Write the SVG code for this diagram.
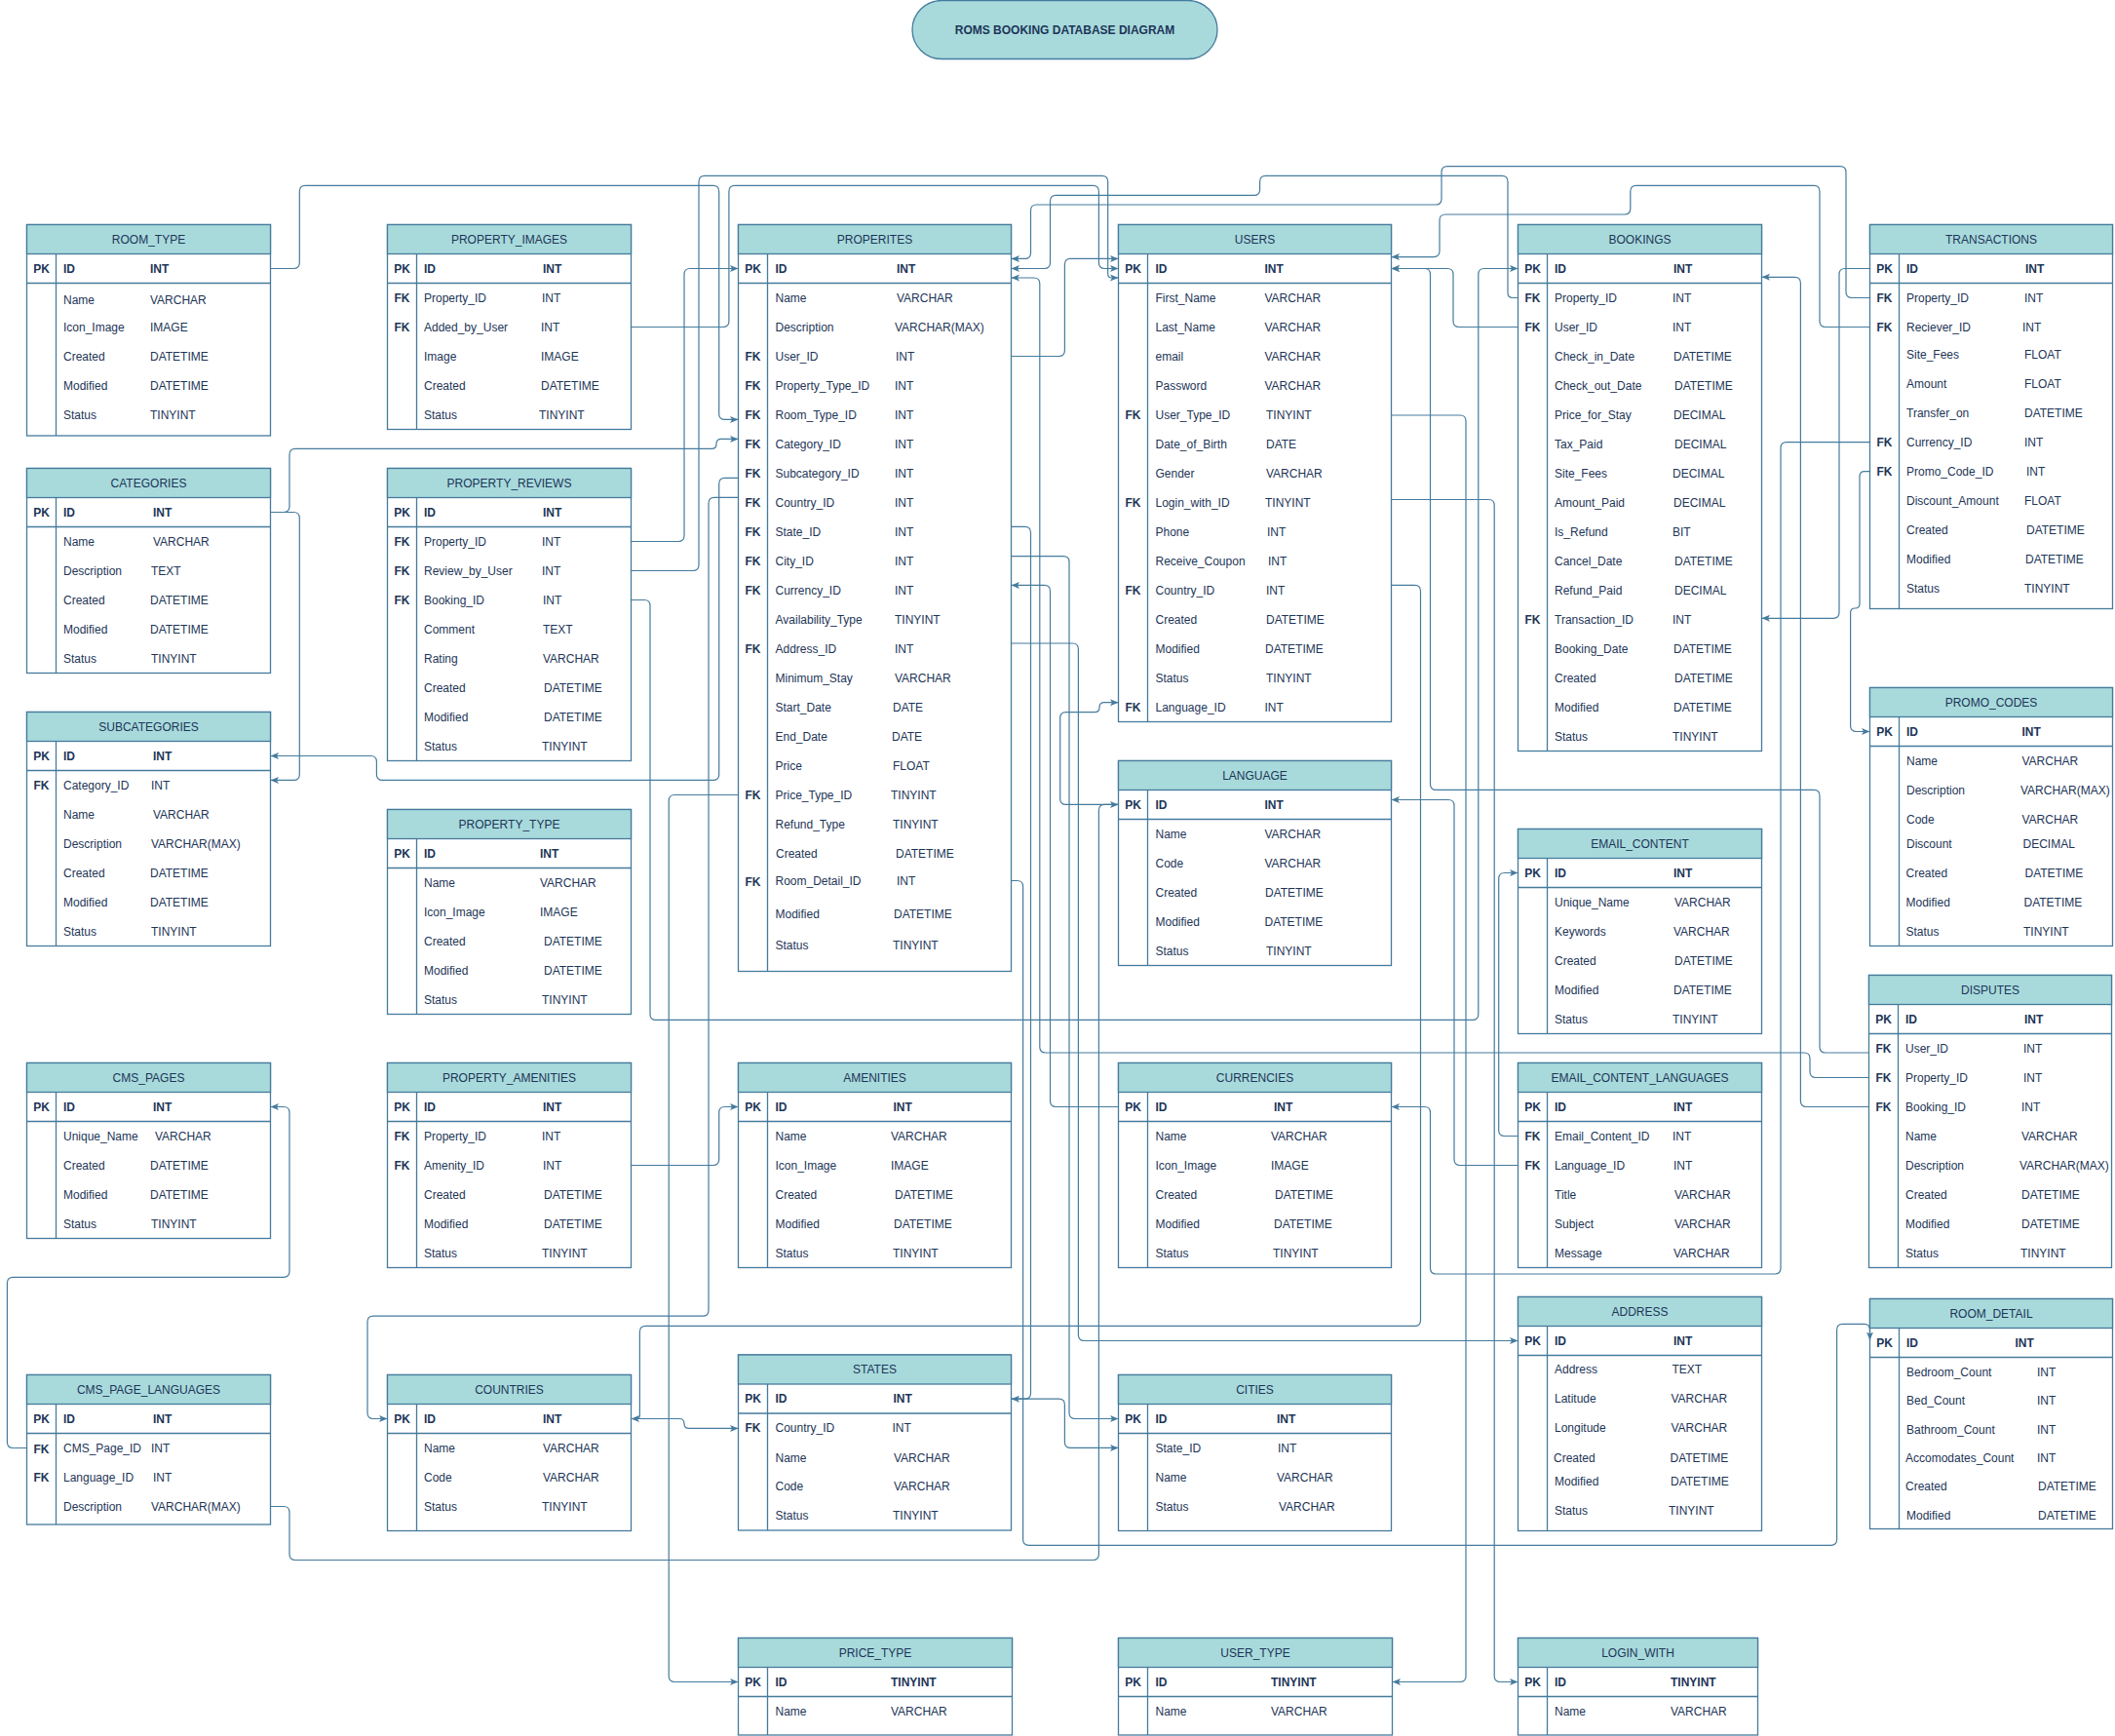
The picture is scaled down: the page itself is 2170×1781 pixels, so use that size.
<svg xmlns="http://www.w3.org/2000/svg" width="2170" height="1781" viewBox="0 0 2170 1781">
<style>
.b{fill:#fff;stroke:#457B9D;stroke-width:1.3}
.h{fill:#A8DADC;stroke:#457B9D;stroke-width:1.3}
.l{stroke:#457B9D;stroke-width:1.3}
text{font-family:"Liberation Sans",Arial,Helvetica,sans-serif;font-size:12px;fill:#1D3557;dominant-baseline:central}
.t{text-anchor:middle}
.tt{text-anchor:middle;font-weight:bold}
.k{text-anchor:middle;font-weight:bold}
.p{font-weight:bold}
.c{fill:none;stroke:#457B9D;stroke-width:1.2}
</style>
<defs>
<marker id="ar" markerUnits="userSpaceOnUse" markerWidth="9" markerHeight="8" refX="8.5" refY="4" orient="auto">
<path d="M0,0.5 L8.5,4 L0,7.5 L2,4 Z" fill="#457B9D"/>
</marker>
</defs>
<rect width="2170" height="1781" fill="#fff"/>

<g id="title">
<rect x="936" y="0.5" width="313" height="60" rx="30" ry="30" class="h"/>
<text x="1092.5" y="31" class="tt">ROMS BOOKING DATABASE DIAGRAM</text>
</g>

<g id="room_type">
<rect class="b" x="27.5" y="230.5" width="250" height="216.5"/><rect class="h" x="27.5" y="230.5" width="250" height="30"/>
<text class="t" x="152.5" y="245.5">ROOM_TYPE</text>
<line class="l" x1="27.5" y1="290.5" x2="277.5" y2="290.5"/><line class="l" x1="57.5" y1="260.5" x2="57.5" y2="447"/>
<text class="k" x="42.5" y="275.5">PK</text><text class="p" x="65" y="275.5">ID</text><text class="p" x="154" y="275.5">INT</text>
<text x="65" y="308">Name</text><text x="154" y="308">VARCHAR</text>
<text x="65" y="335.5">Icon_Image</text><text x="154" y="335.5">IMAGE</text>
<text x="65" y="365.5">Created</text><text x="154" y="365.5">DATETIME</text>
<text x="65" y="395.5">Modified</text><text x="154" y="395.5">DATETIME</text>
<text x="65" y="425.5">Status</text><text x="154" y="425.5">TINYINT</text>
</g>

<g id="property_images">
<rect class="b" x="397.5" y="230.5" width="250" height="210"/><rect class="h" x="397.5" y="230.5" width="250" height="30"/>
<text class="t" x="522.5" y="245.5">PROPERTY_IMAGES</text>
<line class="l" x1="397.5" y1="290.5" x2="647.5" y2="290.5"/><line class="l" x1="427.5" y1="260.5" x2="427.5" y2="440.5"/>
<text class="k" x="412.5" y="275.5">PK</text><text class="p" x="435" y="275.5">ID</text><text class="p" x="557" y="275.5">INT</text>
<text class="k" x="412.5" y="305.5">FK</text><text x="435" y="305.5">Property_ID</text><text x="556" y="305.5">INT</text>
<text class="k" x="412.5" y="335.5">FK</text><text x="435" y="335.5">Added_by_User</text><text x="555" y="335.5">INT</text>
<text x="435" y="365.5">Image</text><text x="555" y="365.5">IMAGE</text>
<text x="435" y="395.5">Created</text><text x="555" y="395.5">DATETIME</text>
<text x="435" y="425.5">Status</text><text x="553" y="425.5">TINYINT</text>
</g>

<g id="categories">
<rect class="b" x="27.5" y="480.5" width="250" height="210"/><rect class="h" x="27.5" y="480.5" width="250" height="30"/>
<text class="t" x="152.5" y="495.5">CATEGORIES</text>
<line class="l" x1="27.5" y1="540.5" x2="277.5" y2="540.5"/><line class="l" x1="57.5" y1="510.5" x2="57.5" y2="690.5"/>
<text class="k" x="42.5" y="525.5">PK</text><text class="p" x="65" y="525.5">ID</text><text class="p" x="157" y="525.5">INT</text>
<text x="65" y="555.5">Name</text><text x="157" y="555.5">VARCHAR</text>
<text x="65" y="585.5">Description</text><text x="155" y="585.5">TEXT</text>
<text x="65" y="615.5">Created</text><text x="154" y="615.5">DATETIME</text>
<text x="65" y="645.5">Modified</text><text x="154" y="645.5">DATETIME</text>
<text x="65" y="675.5">Status</text><text x="155" y="675.5">TINYINT</text>
</g>

<g id="property_reviews">
<rect class="b" x="397.5" y="480.5" width="250" height="300"/><rect class="h" x="397.5" y="480.5" width="250" height="30"/>
<text class="t" x="522.5" y="495.5">PROPERTY_REVIEWS</text>
<line class="l" x1="397.5" y1="540.5" x2="647.5" y2="540.5"/><line class="l" x1="427.5" y1="510.5" x2="427.5" y2="780.5"/>
<text class="k" x="412.5" y="525.5">PK</text><text class="p" x="435" y="525.5">ID</text><text class="p" x="557" y="525.5">INT</text>
<text class="k" x="412.5" y="555.5">FK</text><text x="435" y="555.5">Property_ID</text><text x="556" y="555.5">INT</text>
<text class="k" x="412.5" y="585.5">FK</text><text x="435" y="585.5">Review_by_User</text><text x="556" y="585.5">INT</text>
<text class="k" x="412.5" y="615.5">FK</text><text x="435" y="615.5">Booking_ID</text><text x="557" y="615.5">INT</text>
<text x="435" y="645.5">Comment</text><text x="557" y="645.5">TEXT</text>
<text x="435" y="675.5">Rating</text><text x="557" y="675.5">VARCHAR</text>
<text x="435" y="705.5">Created</text><text x="558" y="705.5">DATETIME</text>
<text x="435" y="735.5">Modified</text><text x="558" y="735.5">DATETIME</text>
<text x="435" y="765.5">Status</text><text x="556" y="765.5">TINYINT</text>
</g>

<g id="subcategories">
<rect class="b" x="27.5" y="730.5" width="250" height="240"/><rect class="h" x="27.5" y="730.5" width="250" height="30"/>
<text class="t" x="152.5" y="745.5">SUBCATEGORIES</text>
<line class="l" x1="27.5" y1="790.5" x2="277.5" y2="790.5"/><line class="l" x1="57.5" y1="760.5" x2="57.5" y2="970.5"/>
<text class="k" x="42.5" y="775.5">PK</text><text class="p" x="65" y="775.5">ID</text><text class="p" x="157" y="775.5">INT</text>
<text class="k" x="42.5" y="805.5">FK</text><text x="65" y="805.5">Category_ID</text><text x="155" y="805.5">INT</text>
<text x="65" y="835.5">Name</text><text x="157" y="835.5">VARCHAR</text>
<text x="65" y="865.5">Description</text><text x="155" y="865.5">VARCHAR(MAX)</text>
<text x="65" y="895.5">Created</text><text x="154" y="895.5">DATETIME</text>
<text x="65" y="925.5">Modified</text><text x="154" y="925.5">DATETIME</text>
<text x="65" y="955.5">Status</text><text x="155" y="955.5">TINYINT</text>
</g>

<g id="property_type">
<rect class="b" x="397.5" y="830.5" width="250" height="210"/><rect class="h" x="397.5" y="830.5" width="250" height="30"/>
<text class="t" x="522.5" y="845.5">PROPERTY_TYPE</text>
<line class="l" x1="397.5" y1="890.5" x2="647.5" y2="890.5"/><line class="l" x1="427.5" y1="860.5" x2="427.5" y2="1040.5"/>
<text class="k" x="412.5" y="875.5">PK</text><text class="p" x="435" y="875.5">ID</text><text class="p" x="554" y="875.5">INT</text>
<text x="435" y="905.5">Name</text><text x="554" y="905.5">VARCHAR</text>
<text x="435" y="935.5">Icon_Image</text><text x="554" y="935.5">IMAGE</text>
<text x="435" y="965.5">Created</text><text x="558" y="965.5">DATETIME</text>
<text x="435" y="995.5">Modified</text><text x="558" y="995.5">DATETIME</text>
<text x="435" y="1025.5">Status</text><text x="556" y="1025.5">TINYINT</text>
</g>

<g id="cms_pages">
<rect class="b" x="27.5" y="1090.5" width="250" height="180"/><rect class="h" x="27.5" y="1090.5" width="250" height="30"/>
<text class="t" x="152.5" y="1105.5">CMS_PAGES</text>
<line class="l" x1="27.5" y1="1150.5" x2="277.5" y2="1150.5"/><line class="l" x1="57.5" y1="1120.5" x2="57.5" y2="1270.5"/>
<text class="k" x="42.5" y="1135.5">PK</text><text class="p" x="65" y="1135.5">ID</text><text class="p" x="157" y="1135.5">INT</text>
<text x="65" y="1165.5">Unique_Name</text><text x="159" y="1165.5">VARCHAR</text>
<text x="65" y="1195.5">Created</text><text x="154" y="1195.5">DATETIME</text>
<text x="65" y="1225.5">Modified</text><text x="154" y="1225.5">DATETIME</text>
<text x="65" y="1255.5">Status</text><text x="155" y="1255.5">TINYINT</text>
</g>

<g id="property_amenities">
<rect class="b" x="397.5" y="1090.5" width="250" height="210"/><rect class="h" x="397.5" y="1090.5" width="250" height="30"/>
<text class="t" x="522.5" y="1105.5">PROPERTY_AMENITIES</text>
<line class="l" x1="397.5" y1="1150.5" x2="647.5" y2="1150.5"/><line class="l" x1="427.5" y1="1120.5" x2="427.5" y2="1300.5"/>
<text class="k" x="412.5" y="1135.5">PK</text><text class="p" x="435" y="1135.5">ID</text><text class="p" x="557" y="1135.5">INT</text>
<text class="k" x="412.5" y="1165.5">FK</text><text x="435" y="1165.5">Property_ID</text><text x="556" y="1165.5">INT</text>
<text class="k" x="412.5" y="1195.5">FK</text><text x="435" y="1195.5">Amenity_ID</text><text x="557" y="1195.5">INT</text>
<text x="435" y="1225.5">Created</text><text x="558" y="1225.5">DATETIME</text>
<text x="435" y="1255.5">Modified</text><text x="558" y="1255.5">DATETIME</text>
<text x="435" y="1285.5">Status</text><text x="556" y="1285.5">TINYINT</text>
</g>

<g id="cms_page_languages">
<rect class="b" x="27.5" y="1410.5" width="250" height="153.5"/><rect class="h" x="27.5" y="1410.5" width="250" height="30"/>
<text class="t" x="152.5" y="1425.5">CMS_PAGE_LANGUAGES</text>
<line class="l" x1="27.5" y1="1470.5" x2="277.5" y2="1470.5"/><line class="l" x1="57.5" y1="1440.5" x2="57.5" y2="1564"/>
<text class="k" x="42.5" y="1455.5">PK</text><text class="p" x="65" y="1455.5">ID</text><text class="p" x="157" y="1455.5">INT</text>
<text class="k" x="42.5" y="1487">FK</text><text x="65" y="1485.5">CMS_Page_ID</text><text x="155" y="1485.5">INT</text>
<text class="k" x="42.5" y="1515.5">FK</text><text x="65" y="1515.5">Language_ID</text><text x="157" y="1515.5">INT</text>
<text x="65" y="1545.5">Description</text><text x="155" y="1545.5">VARCHAR(MAX)</text>
</g>

<g id="countries">
<rect class="b" x="397.5" y="1410.5" width="250" height="160"/><rect class="h" x="397.5" y="1410.5" width="250" height="30"/>
<text class="t" x="522.5" y="1425.5">COUNTRIES</text>
<line class="l" x1="397.5" y1="1470.5" x2="647.5" y2="1470.5"/><line class="l" x1="427.5" y1="1440.5" x2="427.5" y2="1570.5"/>
<text class="k" x="412.5" y="1455.5">PK</text><text class="p" x="435" y="1455.5">ID</text><text class="p" x="557" y="1455.5">INT</text>
<text x="435" y="1485.5">Name</text><text x="557" y="1485.5">VARCHAR</text>
<text x="435" y="1515.5">Code</text><text x="557" y="1515.5">VARCHAR</text>
<text x="435" y="1545.5">Status</text><text x="556" y="1545.5">TINYINT</text>
</g>

<g id="properites">
<rect class="b" x="757.5" y="230.5" width="280" height="766"/><rect class="h" x="757.5" y="230.5" width="280" height="30"/>
<text class="t" x="897.5" y="245.5">PROPERITES</text>
<line class="l" x1="757.5" y1="290.5" x2="1037.5" y2="290.5"/><line class="l" x1="787.5" y1="260.5" x2="787.5" y2="996.5"/>
<text class="k" x="772.5" y="275.5">PK</text><text class="p" x="795.5" y="275.5">ID</text><text class="p" x="920" y="275.5">INT</text>
<text x="795.5" y="305.5">Name</text><text x="920" y="305.5">VARCHAR</text>
<text x="795.5" y="335.5">Description</text><text x="918" y="335.5">VARCHAR(MAX)</text>
<text class="k" x="772.5" y="365.5">FK</text><text x="795.5" y="365.5">User_ID</text><text x="919" y="365.5">INT</text>
<text class="k" x="772.5" y="395.5">FK</text><text x="795.5" y="395.5">Property_Type_ID</text><text x="918" y="395.5">INT</text>
<text class="k" x="772.5" y="425.5">FK</text><text x="795.5" y="425.5">Room_Type_ID</text><text x="918" y="425.5">INT</text>
<text class="k" x="772.5" y="455.5">FK</text><text x="795.5" y="455.5">Category_ID</text><text x="918" y="455.5">INT</text>
<text class="k" x="772.5" y="485.5">FK</text><text x="795.5" y="485.5">Subcategory_ID</text><text x="918" y="485.5">INT</text>
<text class="k" x="772.5" y="515.5">FK</text><text x="795.5" y="515.5">Country_ID</text><text x="918" y="515.5">INT</text>
<text class="k" x="772.5" y="545.5">FK</text><text x="795.5" y="545.5">State_ID</text><text x="918" y="545.5">INT</text>
<text class="k" x="772.5" y="575.5">FK</text><text x="795.5" y="575.5">City_ID</text><text x="918" y="575.5">INT</text>
<text class="k" x="772.5" y="605.5">FK</text><text x="795.5" y="605.5">Currency_ID</text><text x="918" y="605.5">INT</text>
<text x="795.5" y="635.5">Availability_Type</text><text x="918" y="635.5">TINYINT</text>
<text class="k" x="772.5" y="665.5">FK</text><text x="795.5" y="665.5">Address_ID</text><text x="918" y="665.5">INT</text>
<text x="795.5" y="695.5">Minimum_Stay</text><text x="918" y="695.5">VARCHAR</text>
<text x="795.5" y="725.5">Start_Date</text><text x="916" y="725.5">DATE</text>
<text x="795.5" y="755.5">End_Date</text><text x="915" y="755.5">DATE</text>
<text x="795.5" y="785.5">Price</text><text x="916" y="785.5">FLOAT</text>
<text class="k" x="772.5" y="815.5">FK</text><text x="795.5" y="815.5">Price_Type_ID</text><text x="914" y="815.5">TINYINT</text>
<text x="795.5" y="845.5">Refund_Type</text><text x="916" y="845.5">TINYINT</text>
<text x="796" y="875.5">Created</text><text x="919" y="875.5">DATETIME</text>
<text class="k" x="772.5" y="905">FK</text><text x="795.5" y="903.5">Room_Detail_ID</text><text x="920" y="903.5">INT</text>
<text x="795.5" y="938">Modified</text><text x="917" y="938">DATETIME</text>
<text x="795.5" y="970">Status</text><text x="916" y="970">TINYINT</text>
</g>

<g id="users">
<rect class="b" x="1147.5" y="230.5" width="280" height="510"/><rect class="h" x="1147.5" y="230.5" width="280" height="30"/>
<text class="t" x="1287.5" y="245.5">USERS</text>
<line class="l" x1="1147.5" y1="290.5" x2="1427.5" y2="290.5"/><line class="l" x1="1177.5" y1="260.5" x2="1177.5" y2="740.5"/>
<text class="k" x="1162.5" y="275.5">PK</text><text class="p" x="1185.5" y="275.5">ID</text><text class="p" x="1297.5" y="275.5">INT</text>
<text x="1185.5" y="305.5">First_Name</text><text x="1297.5" y="305.5">VARCHAR</text>
<text x="1185.5" y="335.5">Last_Name</text><text x="1297.5" y="335.5">VARCHAR</text>
<text x="1185.5" y="365.5">email</text><text x="1297.5" y="365.5">VARCHAR</text>
<text x="1185.5" y="395.5">Password</text><text x="1297.5" y="395.5">VARCHAR</text>
<text class="k" x="1162.5" y="425.5">FK</text><text x="1185.5" y="425.5">User_Type_ID</text><text x="1299" y="425.5">TINYINT</text>
<text x="1185.5" y="455.5">Date_of_Birth</text><text x="1299" y="455.5">DATE</text>
<text x="1185.5" y="485.5">Gender</text><text x="1299" y="485.5">VARCHAR</text>
<text class="k" x="1162.5" y="515.5">FK</text><text x="1185.5" y="515.5">Login_with_ID</text><text x="1298" y="515.5">TINYINT</text>
<text x="1185.5" y="545.5">Phone</text><text x="1300" y="545.5">INT</text>
<text x="1185.5" y="575.5">Receive_Coupon</text><text x="1301" y="575.5">INT</text>
<text class="k" x="1162.5" y="605.5">FK</text><text x="1185.5" y="605.5">Country_ID</text><text x="1299" y="605.5">INT</text>
<text x="1185.5" y="635.5">Created</text><text x="1299" y="635.5">DATETIME</text>
<text x="1185.5" y="665.5">Modified</text><text x="1298" y="665.5">DATETIME</text>
<text x="1185.5" y="695.5">Status</text><text x="1299" y="695.5">TINYINT</text>
<text class="k" x="1162.5" y="725.5">FK</text><text x="1185.5" y="725.5">Language_ID</text><text x="1297.5" y="725.5">INT</text>
</g>

<g id="language">
<rect class="b" x="1147.5" y="780.5" width="280" height="210"/><rect class="h" x="1147.5" y="780.5" width="280" height="30"/>
<text class="t" x="1287.5" y="795.5">LANGUAGE</text>
<line class="l" x1="1147.5" y1="840.5" x2="1427.5" y2="840.5"/><line class="l" x1="1177.5" y1="810.5" x2="1177.5" y2="990.5"/>
<text class="k" x="1162.5" y="825.5">PK</text><text class="p" x="1185.5" y="825.5">ID</text><text class="p" x="1297.5" y="825.5">INT</text>
<text x="1185.5" y="855.5">Name</text><text x="1297.5" y="855.5">VARCHAR</text>
<text x="1185.5" y="885.5">Code</text><text x="1297.5" y="885.5">VARCHAR</text>
<text x="1185.5" y="915.5">Created</text><text x="1298" y="915.5">DATETIME</text>
<text x="1185.5" y="945.5">Modified</text><text x="1297.5" y="945.5">DATETIME</text>
<text x="1185.5" y="975.5">Status</text><text x="1299" y="975.5">TINYINT</text>
</g>

<g id="amenities">
<rect class="b" x="757.5" y="1090.5" width="280" height="210"/><rect class="h" x="757.5" y="1090.5" width="280" height="30"/>
<text class="t" x="897.5" y="1105.5">AMENITIES</text>
<line class="l" x1="757.5" y1="1150.5" x2="1037.5" y2="1150.5"/><line class="l" x1="787.5" y1="1120.5" x2="787.5" y2="1300.5"/>
<text class="k" x="772.5" y="1135.5">PK</text><text class="p" x="795.5" y="1135.5">ID</text><text class="p" x="916.5" y="1135.5">INT</text>
<text x="795.5" y="1165.5">Name</text><text x="914" y="1165.5">VARCHAR</text>
<text x="795.5" y="1195.5">Icon_Image</text><text x="914" y="1195.5">IMAGE</text>
<text x="795.5" y="1225.5">Created</text><text x="918" y="1225.5">DATETIME</text>
<text x="795.5" y="1255.5">Modified</text><text x="917" y="1255.5">DATETIME</text>
<text x="795.5" y="1285.5">Status</text><text x="916" y="1285.5">TINYINT</text>
</g>

<g id="currencies">
<rect class="b" x="1147.5" y="1090.5" width="280" height="210"/><rect class="h" x="1147.5" y="1090.5" width="280" height="30"/>
<text class="t" x="1287.5" y="1105.5">CURRENCIES</text>
<line class="l" x1="1147.5" y1="1150.5" x2="1427.5" y2="1150.5"/><line class="l" x1="1177.5" y1="1120.5" x2="1177.5" y2="1300.5"/>
<text class="k" x="1162.5" y="1135.5">PK</text><text class="p" x="1185.5" y="1135.5">ID</text><text class="p" x="1307" y="1135.5">INT</text>
<text x="1185.5" y="1165.5">Name</text><text x="1304" y="1165.5">VARCHAR</text>
<text x="1185.5" y="1195.5">Icon_Image</text><text x="1304" y="1195.5">IMAGE</text>
<text x="1185.5" y="1225.5">Created</text><text x="1308" y="1225.5">DATETIME</text>
<text x="1185.5" y="1255.5">Modified</text><text x="1307" y="1255.5">DATETIME</text>
<text x="1185.5" y="1285.5">Status</text><text x="1306" y="1285.5">TINYINT</text>
</g>

<g id="states">
<rect class="b" x="757.5" y="1390" width="280" height="180"/><rect class="h" x="757.5" y="1390" width="280" height="30"/>
<text class="t" x="897.5" y="1405">STATES</text>
<line class="l" x1="757.5" y1="1450" x2="1037.5" y2="1450"/><line class="l" x1="787.5" y1="1420" x2="787.5" y2="1570"/>
<text class="k" x="772.5" y="1435.2">PK</text><text class="p" x="795.5" y="1435.2">ID</text><text class="p" x="916.5" y="1435.2">INT</text>
<text class="k" x="772.5" y="1465.4">FK</text><text x="795.5" y="1465.4">Country_ID</text><text x="915.5" y="1465.4">INT</text>
<text x="795.5" y="1495.5">Name</text><text x="917" y="1495.5">VARCHAR</text>
<text x="795.5" y="1525.3">Code</text><text x="917" y="1525.3">VARCHAR</text>
<text x="795.5" y="1555.4">Status</text><text x="916" y="1555.4">TINYINT</text>
</g>

<g id="cities">
<rect class="b" x="1147.5" y="1410.5" width="280" height="160"/><rect class="h" x="1147.5" y="1410.5" width="280" height="30"/>
<text class="t" x="1287.5" y="1425.5">CITIES</text>
<line class="l" x1="1147.5" y1="1470.5" x2="1427.5" y2="1470.5"/><line class="l" x1="1177.5" y1="1440.5" x2="1177.5" y2="1570.5"/>
<text class="k" x="1162.5" y="1455.5">PK</text><text class="p" x="1185.5" y="1455.5">ID</text><text class="p" x="1310" y="1455.5">INT</text>
<text x="1185.5" y="1485.5">State_ID</text><text x="1311" y="1485.5">INT</text>
<text x="1185.5" y="1515.5">Name</text><text x="1310" y="1515.5">VARCHAR</text>
<text x="1185.5" y="1545.5">Status</text><text x="1312" y="1545.5">VARCHAR</text>
</g>

<g id="price_type">
<rect class="b" x="757.5" y="1680.5" width="281" height="99.5"/><rect class="h" x="757.5" y="1680.5" width="281" height="30"/>
<text class="t" x="898" y="1695.5">PRICE_TYPE</text>
<line class="l" x1="757.5" y1="1740.5" x2="1038.5" y2="1740.5"/><line class="l" x1="787.5" y1="1710.5" x2="787.5" y2="1780"/>
<text class="k" x="772.5" y="1725.5">PK</text><text class="p" x="795.5" y="1725.5">ID</text><text class="p" x="914" y="1725.5">TINYINT</text>
<text x="795.5" y="1755.5">Name</text><text x="914" y="1755.5">VARCHAR</text>
</g>

<g id="user_type">
<rect class="b" x="1147.5" y="1680.5" width="281" height="99.5"/><rect class="h" x="1147.5" y="1680.5" width="281" height="30"/>
<text class="t" x="1288" y="1695.5">USER_TYPE</text>
<line class="l" x1="1147.5" y1="1740.5" x2="1428.5" y2="1740.5"/><line class="l" x1="1177.5" y1="1710.5" x2="1177.5" y2="1780"/>
<text class="k" x="1162.5" y="1725.5">PK</text><text class="p" x="1185.5" y="1725.5">ID</text><text class="p" x="1304" y="1725.5">TINYINT</text>
<text x="1185.5" y="1755.5">Name</text><text x="1304" y="1755.5">VARCHAR</text>
</g>

<g id="bookings">
<rect class="b" x="1557.5" y="230.5" width="250" height="540"/><rect class="h" x="1557.5" y="230.5" width="250" height="30"/>
<text class="t" x="1682.5" y="245.5">BOOKINGS</text>
<line class="l" x1="1557.5" y1="290.5" x2="1807.5" y2="290.5"/><line class="l" x1="1587.5" y1="260.5" x2="1587.5" y2="770.5"/>
<text class="k" x="1572.5" y="275.5">PK</text><text class="p" x="1595" y="275.5">ID</text><text class="p" x="1717" y="275.5">INT</text>
<text class="k" x="1572.5" y="305.5">FK</text><text x="1595" y="305.5">Property_ID</text><text x="1716" y="305.5">INT</text>
<text class="k" x="1572.5" y="335.5">FK</text><text x="1595" y="335.5">User_ID</text><text x="1716" y="335.5">INT</text>
<text x="1595" y="365.5">Check_in_Date</text><text x="1717" y="365.5">DATETIME</text>
<text x="1595" y="395.5">Check_out_Date</text><text x="1718" y="395.5">DATETIME</text>
<text x="1595" y="425.5">Price_for_Stay</text><text x="1717" y="425.5">DECIMAL</text>
<text x="1595" y="455.5">Tax_Paid</text><text x="1718" y="455.5">DECIMAL</text>
<text x="1595" y="485.5">Site_Fees</text><text x="1716" y="485.5">DECIMAL</text>
<text x="1595" y="515.5">Amount_Paid</text><text x="1717" y="515.5">DECIMAL</text>
<text x="1595" y="545.5">Is_Refund</text><text x="1716" y="545.5">BIT</text>
<text x="1595" y="575.5">Cancel_Date</text><text x="1718" y="575.5">DATETIME</text>
<text x="1595" y="605.5">Refund_Paid</text><text x="1718" y="605.5">DECIMAL</text>
<text class="k" x="1572.5" y="635.5">FK</text><text x="1595" y="635.5">Transaction_ID</text><text x="1716" y="635.5">INT</text>
<text x="1595" y="665.5">Booking_Date</text><text x="1717" y="665.5">DATETIME</text>
<text x="1595" y="695.5">Created</text><text x="1718" y="695.5">DATETIME</text>
<text x="1595" y="725.5">Modified</text><text x="1717" y="725.5">DATETIME</text>
<text x="1595" y="755.5">Status</text><text x="1716" y="755.5">TINYINT</text>
</g>

<g id="transactions">
<rect class="b" x="1918.5" y="230.5" width="249" height="394"/><rect class="h" x="1918.5" y="230.5" width="249" height="30"/>
<text class="t" x="2043" y="245.5">TRANSACTIONS</text>
<line class="l" x1="1918.5" y1="290.5" x2="2167.5" y2="290.5"/><line class="l" x1="1948.5" y1="260.5" x2="1948.5" y2="624.5"/>
<text class="k" x="1933.5" y="275.5">PK</text><text class="p" x="1956" y="275.5">ID</text><text class="p" x="2078" y="275.5">INT</text>
<text class="k" x="1933.5" y="305.5">FK</text><text x="1956" y="305.5">Property_ID</text><text x="2077" y="305.5">INT</text>
<text class="k" x="1933.5" y="335.5">FK</text><text x="1956" y="335.5">Reciever_ID</text><text x="2075" y="335.5">INT</text>
<text x="1956" y="363.6">Site_Fees</text><text x="2077" y="363.6">FLOAT</text>
<text x="1956" y="393.6">Amount</text><text x="2077" y="393.6">FLOAT</text>
<text x="1956" y="423.6">Transfer_on</text><text x="2077" y="423.6">DATETIME</text>
<text class="k" x="1933.5" y="453.6">FK</text><text x="1956" y="453.6">Currency_ID</text><text x="2077" y="453.6">INT</text>
<text class="k" x="1933.5" y="483.6">FK</text><text x="1956" y="483.6">Promo_Code_ID</text><text x="2079" y="483.6">INT</text>
<text x="1956" y="513.6">Discount_Amount</text><text x="2077" y="513.6">FLOAT</text>
<text x="1956" y="543.6">Created</text><text x="2079" y="543.6">DATETIME</text>
<text x="1956" y="573.6">Modified</text><text x="2078" y="573.6">DATETIME</text>
<text x="1956" y="603.6">Status</text><text x="2077" y="603.6">TINYINT</text>
</g>

<g id="promo_codes">
<rect class="b" x="1918.5" y="705.5" width="249" height="265"/><rect class="h" x="1918.5" y="705.5" width="249" height="30"/>
<text class="t" x="2043" y="720.5">PROMO_CODES</text>
<line class="l" x1="1918.5" y1="765.5" x2="2167.5" y2="765.5"/><line class="l" x1="1948.5" y1="735.5" x2="1948.5" y2="970.5"/>
<text class="k" x="1933.5" y="750.5">PK</text><text class="p" x="1956" y="750.5">ID</text><text class="p" x="2074.5" y="750.5">INT</text>
<text x="1956" y="780.5">Name</text><text x="2074.5" y="780.5">VARCHAR</text>
<text x="1956" y="810.5">Description</text><text x="2073" y="810.5">VARCHAR(MAX)</text>
<text x="1956" y="840.5">Code</text><text x="2074.5" y="840.5">VARCHAR</text>
<text x="1956" y="865.5">Discount</text><text x="2075.5" y="865.5">DECIMAL</text>
<text x="1955.5" y="895.5">Created</text><text x="2077.5" y="895.5">DATETIME</text>
<text x="1955.5" y="925.5">Modified</text><text x="2076.5" y="925.5">DATETIME</text>
<text x="1955.5" y="955.5">Status</text><text x="2076" y="955.5">TINYINT</text>
</g>

<g id="email_content">
<rect class="b" x="1557.5" y="850.5" width="250" height="210"/><rect class="h" x="1557.5" y="850.5" width="250" height="30"/>
<text class="t" x="1682.5" y="865.5">EMAIL_CONTENT</text>
<line class="l" x1="1557.5" y1="910.5" x2="1807.5" y2="910.5"/><line class="l" x1="1587.5" y1="880.5" x2="1587.5" y2="1060.5"/>
<text class="k" x="1572.5" y="895.5">PK</text><text class="p" x="1595" y="895.5">ID</text><text class="p" x="1717" y="895.5">INT</text>
<text x="1595" y="925.5">Unique_Name</text><text x="1718" y="925.5">VARCHAR</text>
<text x="1595" y="955.5">Keywords</text><text x="1717" y="955.5">VARCHAR</text>
<text x="1595" y="985.5">Created</text><text x="1718" y="985.5">DATETIME</text>
<text x="1595" y="1015.5">Modified</text><text x="1717" y="1015.5">DATETIME</text>
<text x="1595" y="1045.5">Status</text><text x="1716" y="1045.5">TINYINT</text>
</g>

<g id="disputes">
<rect class="b" x="1917.5" y="1000.5" width="249" height="300"/><rect class="h" x="1917.5" y="1000.5" width="249" height="30"/>
<text class="t" x="2042" y="1015.5">DISPUTES</text>
<line class="l" x1="1917.5" y1="1060.5" x2="2166.5" y2="1060.5"/><line class="l" x1="1947.5" y1="1030.5" x2="1947.5" y2="1300.5"/>
<text class="k" x="1932.5" y="1045.5">PK</text><text class="p" x="1955" y="1045.5">ID</text><text class="p" x="2077" y="1045.5">INT</text>
<text class="k" x="1932.5" y="1075.5">FK</text><text x="1955" y="1075.5">User_ID</text><text x="2076" y="1075.5">INT</text>
<text class="k" x="1932.5" y="1105.5">FK</text><text x="1955" y="1105.5">Property_ID</text><text x="2076" y="1105.5">INT</text>
<text class="k" x="1932.5" y="1135.5">FK</text><text x="1955" y="1135.5">Booking_ID</text><text x="2074" y="1135.5">INT</text>
<text x="1955" y="1165.5">Name</text><text x="2074" y="1165.5">VARCHAR</text>
<text x="1955" y="1195.5">Description</text><text x="2072" y="1195.5">VARCHAR(MAX)</text>
<text x="1955" y="1225.5">Created</text><text x="2074" y="1225.5">DATETIME</text>
<text x="1955" y="1255.5">Modified</text><text x="2074" y="1255.5">DATETIME</text>
<text x="1955" y="1285.5">Status</text><text x="2073" y="1285.5">TINYINT</text>
</g>

<g id="email_content_languages">
<rect class="b" x="1557.5" y="1090.5" width="250" height="210"/><rect class="h" x="1557.5" y="1090.5" width="250" height="30"/>
<text class="t" x="1682.5" y="1105.5">EMAIL_CONTENT_LANGUAGES</text>
<line class="l" x1="1557.5" y1="1150.5" x2="1807.5" y2="1150.5"/><line class="l" x1="1587.5" y1="1120.5" x2="1587.5" y2="1300.5"/>
<text class="k" x="1572.5" y="1135.5">PK</text><text class="p" x="1595" y="1135.5">ID</text><text class="p" x="1717" y="1135.5">INT</text>
<text class="k" x="1572.5" y="1165.5">FK</text><text x="1595" y="1165.5">Email_Content_ID</text><text x="1716" y="1165.5">INT</text>
<text class="k" x="1572.5" y="1195.5">FK</text><text x="1595" y="1195.5">Language_ID</text><text x="1717" y="1195.5">INT</text>
<text x="1595" y="1225.5">Title</text><text x="1718" y="1225.5">VARCHAR</text>
<text x="1595" y="1255.5">Subject</text><text x="1718" y="1255.5">VARCHAR</text>
<text x="1595" y="1285.5">Message</text><text x="1717" y="1285.5">VARCHAR</text>
</g>

<g id="address">
<rect class="b" x="1557.5" y="1330.5" width="250" height="240"/><rect class="h" x="1557.5" y="1330.5" width="250" height="30"/>
<text class="t" x="1682.5" y="1345.5">ADDRESS</text>
<line class="l" x1="1557.5" y1="1390.5" x2="1807.5" y2="1390.5"/><line class="l" x1="1587.5" y1="1360.5" x2="1587.5" y2="1570.5"/>
<text class="k" x="1572.5" y="1375.5">PK</text><text class="p" x="1595" y="1375.5">ID</text><text class="p" x="1717" y="1375.5">INT</text>
<text x="1595" y="1405.4">Address</text><text x="1715.5" y="1405.4">TEXT</text>
<text x="1595" y="1435.2">Latitude</text><text x="1714.5" y="1435.2">VARCHAR</text>
<text x="1595" y="1465.4">Longitude</text><text x="1714.5" y="1465.4">VARCHAR</text>
<text x="1594" y="1495.5">Created</text><text x="1713.5" y="1495.5">DATETIME</text>
<text x="1595" y="1520.2">Modified</text><text x="1714" y="1520.2">DATETIME</text>
<text x="1595" y="1549.7">Status</text><text x="1712" y="1549.7">TINYINT</text>
</g>

<g id="room_detail">
<rect class="b" x="1918.5" y="1332.5" width="249" height="236"/><rect class="h" x="1918.5" y="1332.5" width="249" height="30"/>
<text class="t" x="2043" y="1347.5">ROOM_DETAIL</text>
<line class="l" x1="1918.5" y1="1392.5" x2="2167.5" y2="1392.5"/><line class="l" x1="1948.5" y1="1362.5" x2="1948.5" y2="1568.5"/>
<text class="k" x="1933.5" y="1377.7">PK</text><text class="p" x="1956" y="1377.7">ID</text><text class="p" x="2067.5" y="1377.7">INT</text>
<text x="1956" y="1407.5">Bedroom_Count</text><text x="2090" y="1407.5">INT</text>
<text x="1956" y="1437.3">Bed_Count</text><text x="2090" y="1437.3">INT</text>
<text x="1956" y="1467.4">Bathroom_Count</text><text x="2090" y="1467.4">INT</text>
<text x="1955" y="1495.5">Accomodates_Count</text><text x="2090" y="1495.5">INT</text>
<text x="1955" y="1525.3">Created</text><text x="2091" y="1525.3">DATETIME</text>
<text x="1956" y="1555.4">Modified</text><text x="2091" y="1555.4">DATETIME</text>
</g>

<g id="login_with">
<rect class="b" x="1557.5" y="1680.5" width="246" height="99.5"/><rect class="h" x="1557.5" y="1680.5" width="246" height="30"/>
<text class="t" x="1680.5" y="1695.5">LOGIN_WITH</text>
<line class="l" x1="1557.5" y1="1740.5" x2="1803.5" y2="1740.5"/><line class="l" x1="1587.5" y1="1710.5" x2="1587.5" y2="1780"/>
<text class="k" x="1572.5" y="1725.5">PK</text><text class="p" x="1595" y="1725.5">ID</text><text class="p" x="1714" y="1725.5">TINYINT</text>
<text x="1595" y="1755.5">Name</text><text x="1714" y="1755.5">VARCHAR</text>
</g>

<g id="connectors" class="c" marker-end="url(#ar)">
<path d="M277.5,275.5 L301.3,275.5 Q307.3,275.5 307.3,269.5 L307.3,196.4 Q307.3,190.4 313.3,190.4 L731.7,190.4 Q737.7,190.4 737.7,196.4 L737.7,424.4 Q737.7,430.4 743.7,430.4 L757.5,430.4"/>
<path d="M647.5,335.5 L741.9,335.5 Q747.9,335.5 747.9,329.5 L747.9,196.4 Q747.9,190.4 753.9,190.4 L1121.4,190.4 Q1127.4,190.4 1127.4,196.4 L1127.4,269.5 Q1127.4,275.5 1133.4,275.5 L1147.5,275.5"/>
<path d="M647.5,585.5 L711,585.5 Q717,585.5 717,579.5 L717,186.4 Q717,180.4 723,180.4 L1130.7,180.4 Q1136.7,180.4 1136.7,186.4 L1136.7,281 Q1136.7,285 1140.7,285 L1147.5,285"/>
<path d="M647.5,555.5 L696,555.5 Q702,555.5 702,549.5 L702,281.5 Q702,275.5 708,275.5 L757.5,275.5"/>
<path d="M277.5,525.5 L291,525.5 Q297,525.5 297,519.5 L297,466.4 Q297,460.4 303,460.4 L730,460.4 Q735,460.4 735,455.4 Q735,450.4 740,450.4 L757.5,450.4"/>
<path d="M277.5,525.5 L301.3,525.5 Q307.3,525.5 307.3,531.5 L307.3,794.4 Q307.3,800.4 301.3,800.4 L277.5,800.4"/>
<path d="M757.5,490.4 L743.7,490.4 Q737.7,490.4 737.7,496.4 L737.7,794.4 Q737.7,800.4 731.7,800.4 L392.4,800.4 Q386.4,800.4 386.4,794.4 L386.4,781.5 Q386.4,775.5 380.4,775.5 L277.5,775.5"/>
<path d="M647.5,615.5 L661,615.5 Q667,615.5 667,621.5 L667,1040.4 Q667,1046.4 673,1046.4 L1510.8,1046.4 Q1516.8,1046.4 1516.8,1040.4 L1516.8,281.5 Q1516.8,275.5 1522.8,275.5 L1557.5,275.5"/>
<path d="M757.5,510.4 L733,510.4 Q727,510.4 727,516.4 L727,1344.2 Q727,1350.2 721,1350.2 L383,1350.2 Q377,1350.2 377,1356.2 L377,1449.5 Q377,1455.5 383,1455.5 L397.5,1455.5"/>
<path d="M1427.5,600.4 L1451.5,600.4 Q1457.5,600.4 1457.5,606.4 L1457.5,1354.4 Q1457.5,1360.4 1451.5,1360.4 L662.4,1360.4 Q656.4,1360.4 656.4,1366.4 L656.4,1451.5 Q656.4,1455.5 652.4,1455.5 L647.5,1455.5"/>
<path d="M647.5,1455.5 L697,1455.5 Q702,1455.5 702,1460.5 Q702,1465.4 707,1465.4 L757.5,1465.4"/>
<path d="M1427.5,426 L1498,426 Q1504,426 1504,432 L1504,1719.5 Q1504,1725.5 1498,1725.5 L1428.5,1725.5"/>
<path d="M1427.5,512.5 L1527.2,512.5 Q1533.2,512.5 1533.2,518.5 L1533.2,1719.5 Q1533.2,1725.5 1539.2,1725.5 L1557.5,1725.5"/>
<path d="M1147.5,825.4 L1093.7,825.4 Q1087.7,825.4 1087.7,819.4 L1087.7,736.7 Q1087.7,730.7 1093.7,730.7 L1123,730.7 Q1128,730.7 1128,725.7 Q1128,720.7 1133,720.7 L1147.5,720.7"/>
<path d="M277.5,1545.5 L291,1545.5 Q297,1545.5 297,1551.5 L297,1594.5 Q297,1600.5 303,1600.5 L1121.4,1600.5 Q1127.4,1600.5 1127.4,1594.5 L1127.4,831.4 Q1127.4,825.4 1133.4,825.4 L1147.5,825.4"/>
<path d="M1557.5,1195.5 L1498,1195.5 Q1492,1195.5 1492,1189.5 L1492,826.5 Q1492,820.5 1486,820.5 L1427.5,820.5"/>
<path d="M1557.5,1165.5 L1543.7,1165.5 Q1537.7,1165.5 1537.7,1159.5 L1537.7,901.5 Q1537.7,895.5 1543.7,895.5 L1557.5,895.5"/>
<path d="M1147.5,1135.5 L1083.5,1135.5 Q1077.5,1135.5 1077.5,1129.5 L1077.5,606.4 Q1077.5,600.4 1071.5,600.4 L1037.5,600.4"/>
<path d="M1918.5,453.6 L1833,453.6 Q1827,453.6 1827,459.6 L1827,1301 Q1827,1307 1821,1307 L1473.5,1307 Q1467.5,1307 1467.5,1301 L1467.5,1141.5 Q1467.5,1135.5 1461.5,1135.5 L1427.5,1135.5"/>
<path d="M1917.5,1080 L1873,1080 Q1867,1080 1867,1074 L1867,816.4 Q1867,810.4 1861,810.4 L1473.5,810.4 Q1467.5,810.4 1467.5,804.4 L1467.5,281.5 Q1467.5,275.5 1461.5,275.5 L1427.5,275.5"/>
<path d="M1917.5,1105.5 L1863,1105.5 Q1857,1105.5 1857,1099.5 L1857,1086 Q1857,1080 1851,1080 L1072.8,1080 Q1066.8,1080 1066.8,1074 L1066.8,291 Q1066.8,285 1060.8,285 L1037.5,285"/>
<path d="M1917.5,1135.5 L1853.4,1135.5 Q1847.4,1135.5 1847.4,1129.5 L1847.4,290.3 Q1847.4,284.3 1841.4,284.3 L1807.5,284.3"/>
<path d="M1918.5,275.5 L1893,275.5 Q1887,275.5 1887,281.5 L1887,628.3 Q1887,634.3 1881,634.3 L1807.5,634.3"/>
<path d="M1918.5,483.6 L1913,483.6 Q1908,483.6 1908,488.6 L1908,619.5 Q1908,624 1903.3,624 Q1898.6,624 1898.6,628.5 L1898.6,744.5 Q1898.6,750.5 1904.6,750.5 L1918.5,750.5"/>
<path d="M1557.5,305.5 L1552,305.5 Q1547,305.5 1547,300.5 L1547,186.4 Q1547,180.4 1541,180.4 L1298.6,180.4 Q1292.6,180.4 1292.6,186.4 L1292.6,194.4 Q1292.6,200.4 1286.6,200.4 L1083.5,200.4 Q1077.5,200.4 1077.5,206.4 L1077.5,269.5 Q1077.5,275.5 1071.5,275.5 L1037.5,275.5"/>
<path d="M1918.5,305.5 L1900,305.5 Q1894,305.5 1894,299.5 L1894,176.7 Q1894,170.7 1888,170.7 L1485,170.7 Q1479,170.7 1479,176.7 L1479,204 Q1479,210 1473,210 L1063.5,210 Q1057.5,210 1057.5,216 L1057.5,259.4 Q1057.5,265.4 1051.5,265.4 L1037.5,265.4"/>
<path d="M1918.5,335.5 L1873,335.5 Q1867,335.5 1867,329.5 L1867,196.4 Q1867,190.4 1861,190.4 L1678.8,190.4 Q1672.8,190.4 1672.8,196.4 L1672.8,214 Q1672.8,220 1666.8,220 L1483,220 Q1477,220 1477,226 L1477,257.6 Q1477,263.6 1471,263.6 L1427.5,263.6"/>
<path d="M1557.5,335.5 L1497,335.5 Q1491,335.5 1491,329.5 L1491,281.5 Q1491,275.5 1485,275.5 L1427.5,275.5"/>
<path d="M1037.5,365.5 L1086.4,365.5 Q1092.4,365.5 1092.4,359.5 L1092.4,271.4 Q1092.4,265.4 1098.4,265.4 L1147.5,265.4"/>
<path d="M1037.5,540.4 L1051.5,540.4 Q1057.5,540.4 1057.5,546.4 L1057.5,1429.2 Q1057.5,1435.2 1051.5,1435.2 L1037.5,1435.2"/>
<path d="M1037.5,1435.2 L1086.4,1435.2 Q1092.4,1435.2 1092.4,1441.2 L1092.4,1479.4 Q1092.4,1485.4 1098.4,1485.4 L1147.5,1485.4"/>
<path d="M1037.5,570.7 L1091,570.7 Q1097,570.7 1097,576.7 L1097,1449.5 Q1097,1455.5 1103,1455.5 L1147.5,1455.5"/>
<path d="M1037.5,660 L1100.4,660 Q1106.4,660 1106.4,666 L1106.4,1369.5 Q1106.4,1375.5 1112.4,1375.5 L1557.5,1375.5"/>
<path d="M1037.5,903.5 L1043.6,903.5 Q1049.6,903.5 1049.6,909.5 L1049.6,1579.3 Q1049.6,1585.3 1055.6,1585.3 L1878.6,1585.3 Q1884.6,1585.3 1884.6,1579.3 L1884.6,1364.4 Q1884.6,1358.4 1890.6,1358.4 L1912.5,1358.4 Q1918.5,1358.4 1918.5,1364.4 L1918.5,1375"/>
<path d="M757.5,815.5 L692.2,815.5 Q686.2,815.5 686.2,821.5 L686.2,1719.5 Q686.2,1725.5 692.2,1725.5 L757.5,1725.5"/>
<path d="M647.5,1195.5 L731.7,1195.5 Q737.7,1195.5 737.7,1189.5 L737.7,1141.5 Q737.7,1135.5 743.7,1135.5 L757.5,1135.5"/>
<path d="M27.5,1485.5 L13.4,1485.5 Q7.4,1485.5 7.4,1479.5 L7.4,1316.3 Q7.4,1310.3 13.4,1310.3 L291,1310.3 Q297,1310.3 297,1304.3 L297,1141.5 Q297,1135.5 291,1135.5 L277.5,1135.5"/>
</g>
</svg>
